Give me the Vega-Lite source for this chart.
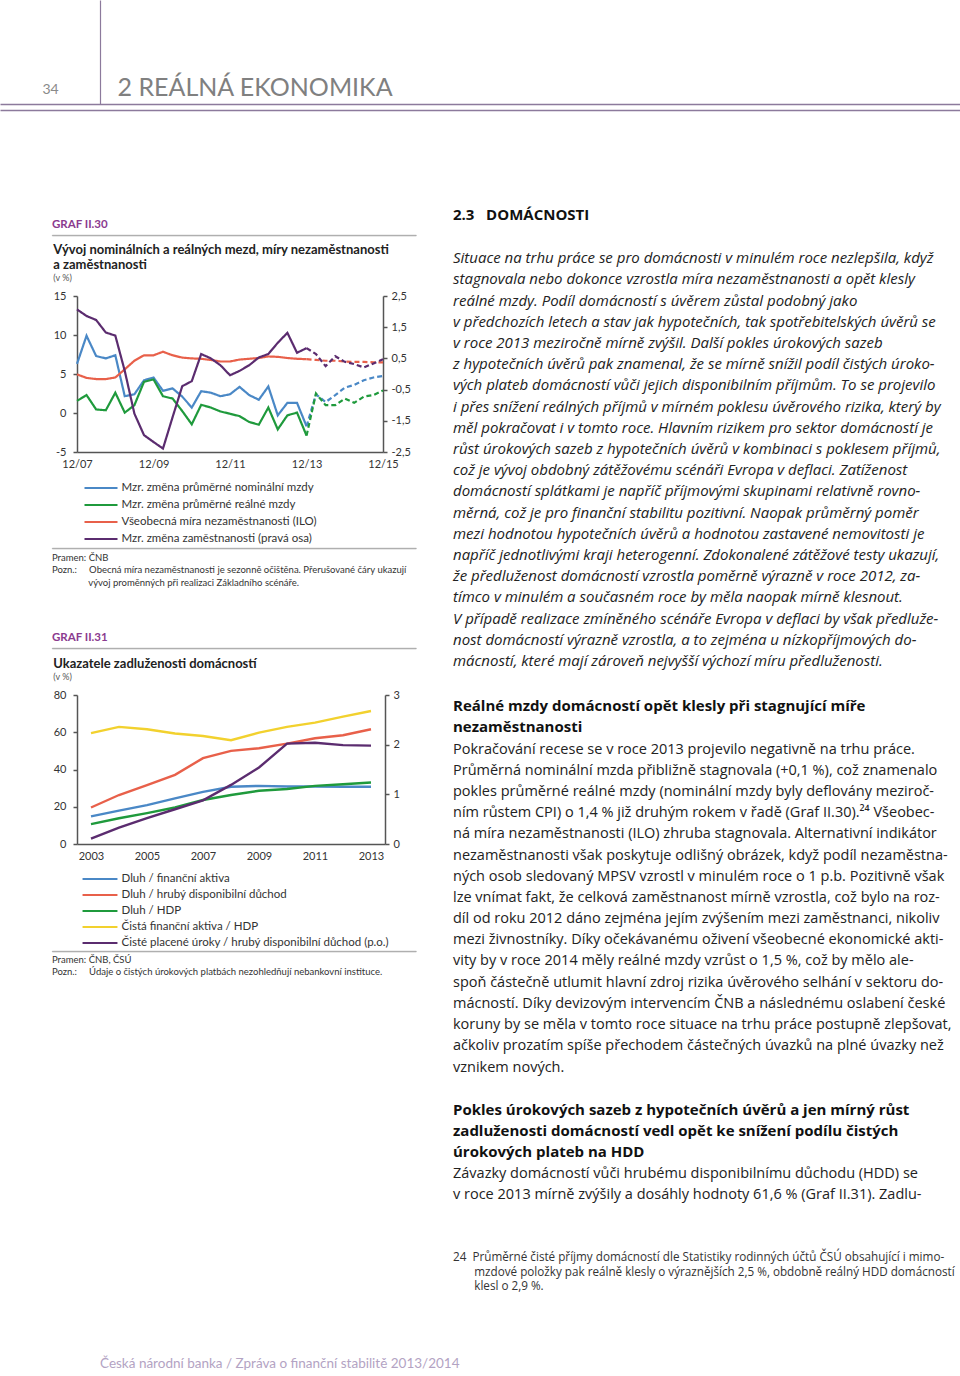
{
"$schema": "https://vega.github.io/schema/vega-lite/v6.json",
"padding": 0,
"background": "white",
"data": {"values": [{"k": 1}]},
"config": {
  "font": "Lato",
  "view": {"stroke": null},
  "axis": {"grid": false, "domainColor": "#555555", "domainWidth": 1.5, "tickColor": "#555555", "tickWidth": 1.5, "tickSize": 4, "labelFontSize": 11, "labelColor": "#333333", "labelFont": "Lato"},
  "title": {"font": "Lato", "subtitleFont": "Lato", "anchor": "start"},
  "legend": {"labelFont": "Lato"}
},
"spacing": 0,
"vconcat": [
  {
    "width": 960, "height": 104,
    "layer": [
      {"mark": {"type": "point", "opacity": 0, "size": 0},
       "encoding": {
         "x": {"datum": 0, "type": "quantitative", "scale": {"domain": [0, 1]}, "axis": {"orient": "bottom", "labels": false, "ticks": false, "domainColor": "#8c7a9c", "domainWidth": 1.5, "title": "2 REÁLNÁ EKONOMIKA", "titleX": 117, "titleY": -9, "titleAlign": "left", "titleBaseline": "alphabetic", "titleFontSize": 25, "titleFontWeight": "normal", "titleColor": "#808080", "titleFont": "Lato"}},
         "y": {"datum": 0, "type": "quantitative", "scale": {"domain": [0, 1]}, "axis": {"orient": "left", "offset": -100, "labels": false, "ticks": false, "domainColor": "#8c7a9c", "domainWidth": 1.2, "title": "34", "titleAngle": 0, "titleX": -50, "titleY": 93, "titleAlign": "center", "titleBaseline": "alphabetic", "titleFontSize": 14, "titleFontWeight": "normal", "titleColor": "#8a8a8a", "titleFont": "Lato"}}
       }},
      {"mark": {"type": "point", "opacity": 0, "size": 0},
       "encoding": {
         "x": {"datum": 0, "type": "quantitative", "scale": {"domain": [0, 1]}, "axis": {"orient": "bottom", "offset": 6, "labels": false, "ticks": false, "domainColor": "#8c7a9c", "domainWidth": 1.5, "title": null}}
       }}
    ],
    "resolve": {"scale": {"x": "independent"}, "axis": {"x": "independent"}}
  },
  {
    "spacing": 36,
    "hconcat": [
      {"width": 15, "height": 0.5, "mark": {"type": "point", "opacity": 0, "size": 0}},
      {
        "spacing": 0,
        "resolve": {"scale": {"color": "independent", "strokeDash": "independent"}, "legend": {"color": "independent", "strokeDash": "independent"}},
        "vconcat": [
          {"width": 1, "height": 108, "mark": {"type": "point", "opacity": 0, "size": 0}},
          {"width": 364, "height": 0.5, "view": {"stroke": "#a0a0a0", "strokeWidth": 0.8}, "mark": {"type": "point", "opacity": 0, "size": 0},
           "title": {"text": "GRAF II.30", "anchor": "start", "frame": "group", "fontSize": 11.5, "fontWeight": "bold", "color": "#8b3b8f", "offset": 5}},
          {"width": 1, "height": 7, "mark": {"type": "point", "opacity": 0, "size": 0}},
          {
            "spacing": 0,
            "resolve": {"scale": {"color": "independent", "strokeDash": "independent"}, "legend": {"color": "independent", "strokeDash": "independent"}},
            "hconcat": [
              {"width": 1, "height": 0.5, "mark": {"type": "point", "opacity": 0, "size": 0}},
              {
                "width": 306, "height": 156,
                "title": {"text": ["Vývoj nominálních a reálných mezd, míry nezaměstnanosti", "a zaměstnanosti"], "subtitle": "(v %)", "anchor": "start", "frame": "bounds", "fontSize": 13, "fontWeight": "bold", "color": "#222222", "lineHeight": 15, "subtitleFontSize": 9, "subtitleColor": "#555555", "subtitlePadding": 2, "offset": 7.5},
                "data": {"values": [
                  {"d":"2007-12-01","nom":6.3,"real":1.55,"unemp":4.95,"emp":2.07,"f":"a"},
                  {"d":"2008-03-01","nom":9.9,"real":2.3,"unemp":4.5,"emp":1.86,"f":"a"},
                  {"d":"2008-06-01","nom":7.3,"real":0.45,"unemp":4.35,"emp":1.73,"f":"a"},
                  {"d":"2008-09-01","nom":7.0,"real":0.35,"unemp":4.35,"emp":1.33,"f":"a"},
                  {"d":"2008-12-01","nom":7.4,"real":2.6,"unemp":4.55,"emp":1.23,"f":"a"},
                  {"d":"2009-03-01","nom":2.15,"real":0.05,"unemp":5.6,"emp":0.1,"f":"a"},
                  {"d":"2009-06-01","nom":2.4,"real":1.0,"unemp":6.7,"emp":-1.27,"f":"a"},
                  {"d":"2009-09-01","nom":4.2,"real":4.0,"unemp":7.4,"emp":-1.96,"f":"a"},
                  {"d":"2009-12-01","nom":4.55,"real":4.3,"unemp":7.4,"emp":-2.18,"f":"a"},
                  {"d":"2010-03-01","nom":2.85,"real":2.15,"unemp":7.85,"emp":-2.39,"f":"a"},
                  {"d":"2010-06-01","nom":3.15,"real":1.85,"unemp":7.4,"emp":-1.38,"f":"a"},
                  {"d":"2010-09-01","nom":2.1,"real":0.25,"unemp":7.1,"emp":-0.39,"f":"a"},
                  {"d":"2010-12-01","nom":0.7,"real":-1.45,"unemp":7.0,"emp":-0.23,"f":"a"},
                  {"d":"2011-03-01","nom":2.8,"real":1.05,"unemp":6.95,"emp":0.64,"f":"a"},
                  {"d":"2011-06-01","nom":2.6,"real":0.7,"unemp":6.8,"emp":0.5,"f":"a"},
                  {"d":"2011-09-01","nom":2.15,"real":0.2,"unemp":6.6,"emp":0.28,"f":"a"},
                  {"d":"2011-12-01","nom":2.4,"real":-0.1,"unemp":6.6,"emp":-0.04,"f":"a"},
                  {"d":"2012-03-01","nom":3.35,"real":-0.4,"unemp":6.85,"emp":0.1,"f":"a"},
                  {"d":"2012-06-01","nom":2.3,"real":-1.15,"unemp":6.95,"emp":0.28,"f":"a"},
                  {"d":"2012-09-01","nom":1.7,"real":-1.5,"unemp":7.05,"emp":0.53,"f":"a"},
                  {"d":"2012-12-01","nom":3.4,"real":0.7,"unemp":7.25,"emp":0.64,"f":"a"},
                  {"d":"2013-03-01","nom":-0.3,"real":-2.1,"unemp":7.2,"emp":1.0,"f":"a"},
                  {"d":"2013-06-01","nom":1.3,"real":-0.3,"unemp":7.05,"emp":1.32,"f":"a"},
                  {"d":"2013-09-01","nom":1.3,"real":0.05,"unemp":6.95,"emp":0.68,"f":"a"},
                  {"d":"2013-12-01","nom":-1.7,"real":-2.9,"unemp":6.9,"emp":0.83,"f":"a"},
                  {"d":"2013-12-01","nom":-1.7,"real":-2.9,"unemp":6.9,"emp":0.83,"f":"p"},
                  {"d":"2014-03-01","nom":2.4,"real":2.5,"unemp":6.8,"emp":0.64,"f":"p"},
                  {"d":"2014-06-01","nom":1.4,"real":1.0,"unemp":6.7,"emp":0.25,"f":"p"},
                  {"d":"2014-09-01","nom":2.3,"real":1.0,"unemp":6.7,"emp":0.57,"f":"p"},
                  {"d":"2014-12-01","nom":3.25,"real":1.85,"unemp":6.6,"emp":0.39,"f":"p"},
                  {"d":"2015-03-01","nom":3.6,"real":1.3,"unemp":6.55,"emp":0.32,"f":"p"},
                  {"d":"2015-06-01","nom":4.2,"real":2.1,"unemp":6.55,"emp":0.21,"f":"p"},
                  {"d":"2015-09-01","nom":4.55,"real":2.3,"unemp":6.5,"emp":0.34,"f":"p"},
                  {"d":"2015-12-01","nom":4.75,"real":2.9,"unemp":6.5,"emp":0.47,"f":"p"}
                ]},
                "layer": [
                  {
                    "transform": [{"fold": ["nom", "real", "unemp"], "as": ["s", "v"]}],
                    "mark": {"type": "line", "strokeWidth": 2.2},
                    "encoding": {
                      "x": {"field": "d", "type": "temporal", "scale": {"type": "utc", "nice": false, "domain": [{"year": 2007, "month": 12, "date": 1, "utc": true}, {"year": 2015, "month": 12, "date": 1, "utc": true}]},
                            "axis": {"values": [{"year": 2007, "month": 12, "date": 1, "utc": true}, {"year": 2009, "month": 12, "date": 1, "utc": true}, {"year": 2011, "month": 12, "date": 1, "utc": true}, {"year": 2013, "month": 12, "date": 1, "utc": true}, {"year": 2015, "month": 12, "date": 1, "utc": true}], "format": "%m/%y", "ticks": false, "labelPadding": 6, "labelFlush": false, "title": null}},
                      "y": {"field": "v", "type": "quantitative", "scale": {"domain": [-5, 15], "nice": false}, "axis": {"orient": "left", "values": [-5, 0, 5, 10, 15], "labelExpr": "datum.value + ''", "labelPadding": 7, "title": null}},
                      "color": {"field": "s", "type": "nominal", "scale": {"domain": ["nom", "real", "unemp", "emp"], "range": ["#4a88c6", "#1f9a3c", "#e8604a", "#5b2c6f"]},
                                "legend": {"orient": "bottom", "direction": "vertical", "title": null, "symbolType": "M-1.65,0H1.65", "symbolSize": 400, "symbolStrokeWidth": 2, "symbolOffset": 13, "labelFontSize": 11.5, "labelColor": "#333333", "labelOffset": 9.5, "rowPadding": 0, "offset": 7.5, "labelLimit": 400,
                                           "labelExpr": "datum.value == 'nom' ? 'Mzr. změna průměrné nominální mzdy' : datum.value == 'real' ? 'Mzr. změna průměrné reálné mzdy' : datum.value == 'unemp' ? 'Všeobecná míra nezaměstnanosti (ILO)' : 'Mzr. změna zaměstnanosti (pravá osa)'"}},
                      "strokeDash": {"field": "f", "type": "nominal", "scale": {"domain": ["a", "p"], "range": [[1, 0], [5, 3]]}, "legend": null}
                    }
                  },
                  {
                    "transform": [{"fold": ["emp"], "as": ["s", "v"]}],
                    "mark": {"type": "line", "strokeWidth": 2.2},
                    "encoding": {
                      "x": {"field": "d", "type": "temporal"},
                      "y": {"field": "v", "type": "quantitative", "scale": {"domain": [-2.5, 2.5], "nice": false}, "axis": {"orient": "right", "values": [-2.5, -1.5, -0.5, 0.5, 1.5, 2.5], "labelExpr": "replace(datum.value + '', '.', ',')", "labelPadding": 4, "title": null}},
                      "color": {"field": "s", "type": "nominal"},
                      "strokeDash": {"field": "f", "type": "nominal", "legend": null}
                    }
                  }
                ],
                "resolve": {"scale": {"y": "independent"}}
              }
            ]
          },
          {"width": 1, "height": 2, "mark": {"type": "point", "opacity": 0, "size": 0}},
          {"width": 364, "height": 0.5, "view": {"stroke": "#a0a0a0", "strokeWidth": 0.8}, "mark": {"type": "point", "opacity": 0, "size": 0},
           "title": {"text": ["Pramen:\u00a0ČNB", "Pozn.:\u00a0\u00a0\u00a0\u00a0\u00a0Obecná míra nezaměstnanosti je sezonně očištěna. Přerušované čáry ukazují", "\u200b\u00a0\u00a0\u00a0\u00a0\u00a0\u00a0\u00a0\u00a0\u00a0\u00a0\u00a0\u00a0\u00a0\u00a0\u00a0vývoj proměnných při realizaci Základního scénáře."], "orient": "bottom", "anchor": "start", "frame": "group", "fontSize": 9.5, "fontWeight": "normal", "color": "#333333", "lineHeight": 12.5, "offset": 4}},
          {"width": 1, "height": 43, "mark": {"type": "point", "opacity": 0, "size": 0}},
          {"width": 364, "height": 0.5, "view": {"stroke": "#a0a0a0", "strokeWidth": 0.8}, "mark": {"type": "point", "opacity": 0, "size": 0},
           "title": {"text": "GRAF II.31", "anchor": "start", "frame": "group", "fontSize": 11.5, "fontWeight": "bold", "color": "#8b3b8f", "offset": 5}},
          {"width": 1, "height": 8, "mark": {"type": "point", "opacity": 0, "size": 0}},
          {
            "spacing": 0,
            "resolve": {"scale": {"color": "independent", "strokeDash": "independent"}, "legend": {"color": "independent", "strokeDash": "independent"}},
            "hconcat": [
              {"width": 1, "height": 0.5, "mark": {"type": "point", "opacity": 0, "size": 0}},
              {
                "width": 308, "height": 149,
                "title": {"text": "Ukazatele zadluženosti domácností", "subtitle": "(v %)", "anchor": "start", "frame": "bounds", "fontSize": 13, "fontWeight": "bold", "color": "#222222", "lineHeight": 15, "subtitleFontSize": 9, "subtitleColor": "#555555", "subtitlePadding": 2, "offset": 7.5},
                "data": {"values": [
                  {"yr": 2003, "fa": 14.8, "hdd": 19.6, "hdp": 10.7, "cfa": 59.5, "ur": 0.11},
                  {"yr": 2004, "fa": 17.9, "hdd": 26.3, "hdp": 13.8, "cfa": 62.9, "ur": 0.33},
                  {"yr": 2005, "fa": 20.9, "hdd": 31.6, "hdp": 16.6, "cfa": 61.6, "ur": 0.52},
                  {"yr": 2006, "fa": 24.5, "hdd": 37.1, "hdp": 19.6, "cfa": 59.3, "ur": 0.70},
                  {"yr": 2007, "fa": 28.0, "hdd": 46.1, "hdp": 23.6, "cfa": 58.0, "ur": 0.88},
                  {"yr": 2008, "fa": 30.7, "hdd": 50.0, "hdp": 26.3, "cfa": 55.7, "ur": 1.19},
                  {"yr": 2009, "fa": 31.2, "hdd": 51.4, "hdp": 28.6, "cfa": 59.8, "ur": 1.54},
                  {"yr": 2010, "fa": 30.9, "hdd": 53.9, "hdp": 29.5, "cfa": 62.9, "ur": 2.02},
                  {"yr": 2011, "fa": 30.9, "hdd": 56.8, "hdp": 31.2, "cfa": 65.2, "ur": 2.04},
                  {"yr": 2012, "fa": 30.7, "hdd": 58.4, "hdp": 32.1, "cfa": 68.4, "ur": 1.99},
                  {"yr": 2013, "fa": 30.7, "hdd": 61.6, "hdp": 33.0, "cfa": 71.4, "ur": 1.98}
                ]},
                "layer": [
                  {
                    "transform": [{"fold": ["fa", "hdd", "hdp", "cfa"], "as": ["s", "v"]}],
                    "mark": {"type": "line", "strokeWidth": 2.4},
                    "encoding": {
                      "x": {"field": "yr", "type": "quantitative", "scale": {"domain": [2002.5, 2013.5], "nice": false, "zero": false}, "axis": {"values": [2003, 2005, 2007, 2009, 2011, 2013], "format": "d", "ticks": false, "labelPadding": 6, "labelFlush": false, "title": null}},
                      "y": {"field": "v", "type": "quantitative", "scale": {"domain": [0, 80], "nice": false}, "axis": {"orient": "left", "values": [0, 20, 40, 60, 80], "labelPadding": 7, "title": null}},
                      "color": {"field": "s", "type": "nominal", "scale": {"domain": ["fa", "hdd", "hdp", "cfa", "ur"], "range": ["#4a88c6", "#e8604a", "#1f9a3c", "#f2d12e", "#5b2c6f"]},
                                "legend": {"orient": "bottom", "direction": "vertical", "title": null, "symbolType": "M-1.94,0H1.94", "symbolSize": 324, "symbolStrokeWidth": 2, "symbolOffset": 13, "labelFontSize": 11.5, "labelColor": "#333333", "labelOffset": 11.5, "rowPadding": 0, "offset": 7.5, "labelLimit": 400,
                                           "labelExpr": "datum.value == 'fa' ? 'Dluh / finanční aktiva' : datum.value == 'hdd' ? 'Dluh / hrubý disponibilní důchod' : datum.value == 'hdp' ? 'Dluh / HDP' : datum.value == 'cfa' ? 'Čistá finanční aktiva / HDP' : 'Čisté placené úroky / hrubý disponibilní důchod (p.o.)'"}}
                    }
                  },
                  {
                    "transform": [{"fold": ["ur"], "as": ["s", "v"]}],
                    "mark": {"type": "line", "strokeWidth": 2.4},
                    "encoding": {
                      "x": {"field": "yr", "type": "quantitative"},
                      "y": {"field": "v", "type": "quantitative", "scale": {"domain": [0, 3], "nice": false}, "axis": {"orient": "right", "values": [0, 1, 2, 3], "labelPadding": 4, "title": null}},
                      "color": {"field": "s", "type": "nominal"}
                    }
                  }
                ],
                "resolve": {"scale": {"y": "independent"}}
              }
            ]
          },
          {"width": 1, "height": 1, "mark": {"type": "point", "opacity": 0, "size": 0}},
          {"width": 364, "height": 0.5, "view": {"stroke": "#a0a0a0", "strokeWidth": 0.8}, "mark": {"type": "point", "opacity": 0, "size": 0},
           "title": {"text": ["Pramen:\u00a0ČNB, ČSÚ", "Pozn.:\u00a0\u00a0\u00a0\u00a0\u00a0Údaje o čistých úrokových platbách nezohledňují nebankovní instituce."], "orient": "bottom", "anchor": "start", "frame": "group", "fontSize": 9.5, "fontWeight": "normal", "color": "#333333", "lineHeight": 12.5, "offset": 3}}
        ]
      },
      {
        "spacing": 0,
        "vconcat": [
          {"width": 1, "height": 98, "mark": {"type": "point", "opacity": 0, "size": 0}},
          {"width": 503, "height": 0.5, "mark": {"type": "point", "opacity": 0, "size": 0},
           "title": {"text": "2.3\u00a0\u00a0\u00a0DOMÁCNOSTI", "anchor": "start", "frame": "group", "font": "Open Sans", "fontSize": 15, "fontWeight": "bold", "color": "#111111", "offset": 0,
                     "subtitle": [
                       "Situace na trhu práce se pro domácnosti v minulém roce nezlepšila, když",
                       "stagnovala nebo dokonce vzrostla míra nezaměstnanosti a opět klesly",
                       "reálné mzdy. Podíl domácností s úvěrem zůstal podobný jako",
                       "v předchozích letech a stav jak hypotečních, tak spotřebitelských úvěrů se",
                       "v roce 2013 meziročně mírně zvýšil. Další pokles úrokových sazeb",
                       "z hypotečních úvěrů pak znamenal, že se mírně snížil podíl čistých úroko-",
                       "vých plateb domácností vůči jejich disponibilním příjmům. To se projevilo",
                       "i přes snížení reálných příjmů v mírném poklesu úvěrového rizika, který by",
                       "měl pokračovat i v tomto roce. Hlavním rizikem pro sektor domácností je",
                       "růst úrokových sazeb z hypotečních úvěrů v kombinaci s poklesem příjmů,",
                       "což je vývoj obdobný zátěžovému scénáři Evropa v deflaci. Zatíženost",
                       "domácností splátkami je napříč příjmovými skupinami relativně rovno-",
                       "měrná, což je pro finanční stabilitu pozitivní. Naopak průměrný poměr",
                       "mezi hodnotou hypotečních úvěrů a hodnotou zastavené nemovitosti je",
                       "napříč jednotlivými kraji heterogenní. Zdokonalené zátěžové testy ukazují,",
                       "že předluženost domácností vzrostla poměrně výrazně v roce 2012, za-",
                       "tímco v minulém a současném roce by měla naopak mírně klesnout.",
                       "V případě realizace zmíněného scénáře Evropa v deflaci by však předluže-",
                       "nost domácností výrazně vzrostla, a to zejména u nízkopříjmových do-",
                       "mácností, které mají zároveň nejvyšší výchozí míru předluženosti."
                     ],
                     "subtitleFont": "Open Sans", "subtitleFontSize": 15, "subtitleFontStyle": "italic", "subtitleColor": "#222222", "subtitleLineHeight": 21.2, "subtitlePadding": 28}},
          {"width": 1, "height": 28.5, "mark": {"type": "point", "opacity": 0, "size": 0}},
          {"width": 503, "height": 0.5, "mark": {"type": "point", "opacity": 0, "size": 0},
           "title": {"text": ["Reálné mzdy domácností opět klesly při stagnující míře", "nezaměstnanosti"], "anchor": "start", "frame": "group", "font": "Open Sans", "fontSize": 15, "fontWeight": "bold", "color": "#111111", "lineHeight": 21.2, "offset": 0,
                     "subtitle": [
                       "Pokračování recese se v roce 2013 projevilo negativně na trhu práce.",
                       "Průměrná nominální mzda přibližně stagnovala (+0,1 %), což znamenalo",
                       "pokles průměrné reálné mzdy (nominální mzdy byly deflovány meziroč-",
                       "ním růstem CPI) o 1,4 % již druhým rokem v řadě (Graf II.30).²⁴ Všeobec-",
                       "ná míra nezaměstnanosti (ILO) zhruba stagnovala. Alternativní indikátor",
                       "nezaměstnanosti však poskytuje odlišný obrázek, když podíl nezaměstna-",
                       "ných osob sledovaný MPSV vzrostl v minulém roce o 1 p.b. Pozitivně však",
                       "lze vnímat fakt, že celková zaměstnanost mírně vzrostla, což bylo na roz-",
                       "díl od roku 2012 dáno zejména jejím zvýšením mezi zaměstnanci, nikoliv",
                       "mezi živnostníky. Díky očekávanému oživení všeobecné ekonomické akti-",
                       "vity by v roce 2014 měly reálné mzdy vzrůst o 1,5 %, což by mělo ale-",
                       "spoň částečně utlumit hlavní zdroj rizika úvěrového selhání v sektoru do-",
                       "mácností. Díky devizovým intervencím ČNB a následnému oslabení české",
                       "koruny by se měla v tomto roce situace na trhu práce postupně zlepšovat,",
                       "ačkoliv prozatím spíše přechodem částečných úvazků na plné úvazky než",
                       "vznikem nových."
                     ],
                     "subtitleFont": "Open Sans", "subtitleFontSize": 14.5, "subtitleFontStyle": "normal", "subtitleColor": "#222222", "subtitleLineHeight": 21.2, "subtitlePadding": 7}},
          {"width": 1, "height": 26.5, "mark": {"type": "point", "opacity": 0, "size": 0}},
          {"width": 503, "height": 0.5, "mark": {"type": "point", "opacity": 0, "size": 0},
           "title": {"text": ["Pokles úrokových sazeb z hypotečních úvěrů a jen mírný růst", "zadluženosti domácností vedl opět ke snížení podílu čistých", "úrokových plateb na HDD"], "anchor": "start", "frame": "group", "font": "Open Sans", "fontSize": 15, "fontWeight": "bold", "color": "#111111", "lineHeight": 21.2, "offset": 0,
                     "subtitle": [
                       "Závazky domácností vůči hrubému disponibilnímu důchodu (HDD) se",
                       "v roce 2013 mírně zvýšily a dosáhly hodnoty 61,6 % (Graf II.31). Zadlu-"
                     ],
                     "subtitleFont": "Open Sans", "subtitleFontSize": 14.5, "subtitleFontStyle": "normal", "subtitleColor": "#222222", "subtitleLineHeight": 21.2, "subtitlePadding": 7}},
          {"width": 1, "height": 48.5, "mark": {"type": "point", "opacity": 0, "size": 0}},
          {"width": 503, "height": 0.5, "mark": {"type": "point", "opacity": 0, "size": 0},
           "title": {"text": ["24\u00a0\u00a0Průměrné čisté příjmy domácností dle Statistiky rodinných účtů ČSÚ obsahující i mimo-", "\u200b\u00a0\u00a0\u00a0\u00a0\u00a0\u00a0\u00a0mzdové položky pak reálně klesly o výraznějších 2,5 %, obdobně reálný HDD domácností", "\u200b\u00a0\u00a0\u00a0\u00a0\u00a0\u00a0\u00a0klesl o 2,9 %."], "anchor": "start", "frame": "group", "font": "Open Sans", "fontSize": 11.7, "fontWeight": "normal", "color": "#333333", "lineHeight": 14.5, "offset": 0}}
        ]
      }
    ]
  },
  {"width": 1, "height": 62, "mark": {"type": "point", "opacity": 0, "size": 0}},
  {"width": 860, "height": 0.5, "mark": {"type": "point", "opacity": 0, "size": 0},
   "title": {"text": "Česká národní banka / Zpráva o finanční stabilitě 2013/2014", "anchor": "start", "frame": "group", "dx": 100, "fontSize": 13.5, "fontWeight": "normal", "color": "#b3a3c3", "offset": 0}}
]
}
